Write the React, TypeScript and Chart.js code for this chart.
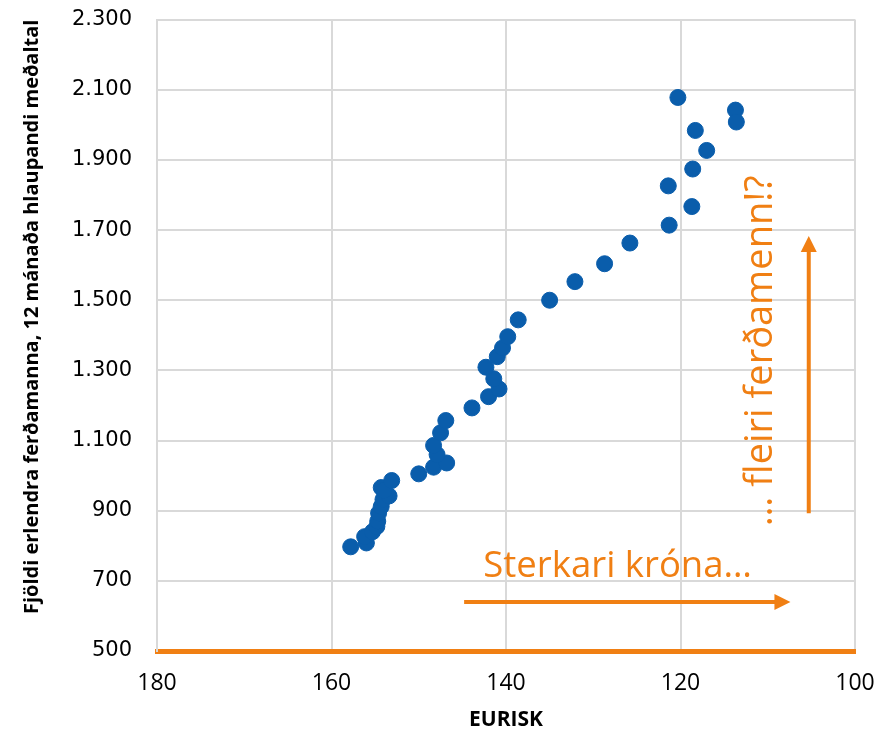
import React, { useEffect, useRef } from "react";
import { Chart, registerables } from "chart.js";

Chart.register(...registerables);

const eurisk: number[] = [
  157.8, 156.0, 156.2, 155.3, 154.8, 154.7, 154.6, 154.3, 154.1, 153.4, 154.3, 154.0, 153.1,
  150.0, 148.3, 146.8, 147.9, 148.3, 147.5, 146.9, 143.9, 142.0, 140.8, 141.4, 142.3, 141.0,
  140.4, 139.8, 138.6, 135.0, 132.1, 128.7, 125.8, 121.3, 118.7, 121.4, 118.6, 117.0, 118.3,
  120.3, 113.7, 113.6,
];
const visitors: number[] = [
  797, 808, 826, 840, 855, 870, 893, 912, 932, 942, 966, 958, 986,
  1005, 1024, 1036, 1060, 1086, 1122, 1157, 1193, 1225, 1247, 1276, 1309, 1339,
  1364, 1396, 1444, 1500, 1553, 1604, 1663, 1714, 1767, 1826, 1874, 1927, 1984,
  2078, 2042, 2008,
];

const yTitle = "Fjöldi erlendra ferðamanna, 12 mánaða hlaupandi meðaltal";
const xTitle = "EURISK";
const hText = "Sterkari króna…";
const vText = "… fleiri ferðamenn!?";

// annotation anchors in data units
const hArrowX = [144.8, 107.4];
const hArrowY = 640;
const hTextPos = [142.6, 711];
const vArrowX = 105.3;
const vArrowY = [893, 1683];
const vTextPos = [110.7, 1356];

const ORANGE = "#F07F13";
const BLUE = "#0A5DAB";
const GRID = "#D9D9D9";

const annotationPlugin = {
  id: "annot",
  afterDatasetsDraw(chart: any) {
    const ctx = chart.ctx;
    const xs = chart.scales.x;
    const ys = chart.scales.y;
    ctx.save();
    ctx.strokeStyle = ORANGE;
    ctx.fillStyle = ORANGE;
    ctx.lineWidth = 4;
    // horizontal arrow
    const x1 = xs.getPixelForValue(hArrowX[0]);
    const x2 = xs.getPixelForValue(hArrowX[1]);
    const hy = ys.getPixelForValue(hArrowY);
    ctx.beginPath();
    ctx.moveTo(x1, hy);
    ctx.lineTo(x2 - 14, hy);
    ctx.stroke();
    ctx.beginPath();
    ctx.moveTo(x2, hy);
    ctx.lineTo(x2 - 16, hy - 8);
    ctx.lineTo(x2 - 16, hy + 8);
    ctx.closePath();
    ctx.fill();
    // vertical arrow
    const vx = xs.getPixelForValue(vArrowX);
    const y1 = ys.getPixelForValue(vArrowY[0]);
    const y2 = ys.getPixelForValue(vArrowY[1]);
    ctx.beginPath();
    ctx.moveTo(vx, y1);
    ctx.lineTo(vx, y2 + 14);
    ctx.stroke();
    ctx.beginPath();
    ctx.moveTo(vx, y2);
    ctx.lineTo(vx - 8, y2 + 16);
    ctx.lineTo(vx + 8, y2 + 16);
    ctx.closePath();
    ctx.fill();
    // texts
    ctx.font = "36.5px 'Open Sans', sans-serif";
    ctx.textAlign = "left";
    ctx.textBaseline = "alphabetic";
    ctx.fillText(hText, xs.getPixelForValue(hTextPos[0]), ys.getPixelForValue(hTextPos[1]));
    ctx.translate(xs.getPixelForValue(vTextPos[0]), ys.getPixelForValue(vTextPos[1]));
    ctx.rotate(-Math.PI / 2);
    ctx.textAlign = "center";
    ctx.textBaseline = "middle";
    ctx.font = "38px 'Open Sans', sans-serif";
    ctx.fillText(vText, 0, 0);
    ctx.restore();
  },
};

export default function App() {
  const ref = useRef<HTMLCanvasElement | null>(null);
  useEffect(() => {
    document.body.style.margin = "0";
    if (!ref.current) return;
    const chart = new Chart(ref.current, {
      type: "scatter",
      data: {
        datasets: [
          {
            data: eurisk.map((x, i) => ({ x, y: visitors[i] })),
            backgroundColor: BLUE,
            borderColor: BLUE,
            pointRadius: 8,
            pointHoverRadius: 8,
          },
        ],
      },
      plugins: [annotationPlugin],
      options: {
        animation: false,
        responsive: false,
        maintainAspectRatio: false,
        layout: { padding: { top: 0, right: 40, left: 0, bottom: 0 } },
        plugins: { legend: { display: false }, tooltip: { enabled: false } },
        scales: {
          x: {
            type: "linear",
            reverse: true,
            min: 100,
            max: 180,
            afterFit: (s: any) => {
              s.height = 80;
            },
            ticks: {
              stepSize: 20,
              padding: 19,
              color: "#000",
              font: { family: "'Open Sans', sans-serif", size: 23 },
            },
            grid: { color: GRID, lineWidth: 2, drawTicks: false },
            border: { display: true, color: ORANGE, width: 5 },
            title: {
              display: true,
              text: xTitle,
              color: "#000",
              font: { family: "'Open Sans', sans-serif", size: 21, weight: "bold", lineHeight: 1 },
              padding: { top: 0, bottom: 0 },
            },
          },
          y: {
            type: "linear",
            min: 500,
            max: 2300,
            afterFit: (s: any) => {
              s.width = 157;
            },
            ticks: {
              stepSize: 200,
              padding: 25,
              color: "#000",
              font: { family: "'DejaVu Sans', sans-serif", size: 21 },
              callback: (v: any) => Number(v).toLocaleString("de-DE"),
            },
            grid: { color: GRID, lineWidth: 2, drawTicks: false },
            border: { display: true, color: GRID, width: 2 },
            title: {
              display: true,
              text: yTitle,
              align: "end",
              color: "#000",
              font: { family: "'Open Sans', sans-serif", size: 20, weight: "bold" },
              padding: { top: 20, bottom: 0 },
            },
          },
        },
      },
    });
    return () => chart.destroy();
  }, []);
  return (
    <div style={{ width: 895, height: 731, overflow: "hidden", position: "relative" }}>
      <canvas
        ref={ref}
        width={895}
        height={749}
        style={{ width: 895, height: 749, display: "block", position: "absolute", left: 0, top: -18 }}
      />
    </div>
  );
}
